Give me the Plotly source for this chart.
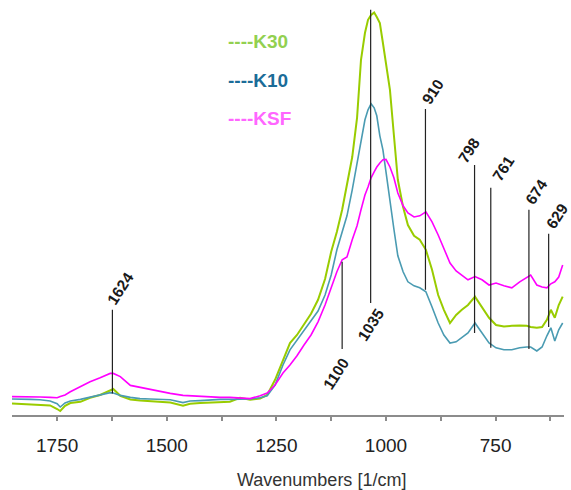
import plotly.graph_objects as go

# Wavenumbers [1/cm]
wavenumber = [1853, 1834, 1811, 1789, 1766, 1750, 1743, 1732, 1720, 1697, 1675, 1652, 1629, 1622,
              1606, 1583, 1561, 1538, 1515, 1492, 1463, 1447, 1424, 1401, 1378, 1356, 1333, 1310,
              1287, 1271, 1253, 1235, 1219, 1203, 1187, 1171, 1155, 1139, 1125, 1112, 1100, 1089,
              1077, 1066, 1057, 1048, 1041, 1034, 1027, 1021, 1014, 1007, 1000, 991, 982, 973,
              961, 950, 936, 923, 909, 895, 881, 868, 854, 840, 827, 813, 797, 781, 765, 749,
              731, 713, 695, 679, 670, 656, 644, 633, 624, 615, 606, 597]

ksf = [0.046, 0.046, 0.045, 0.045, 0.044, 0.043, 0.046, 0.050, 0.058, 0.071, 0.083, 0.093, 0.104, 0.104,
       0.096, 0.074, 0.069, 0.063, 0.058, 0.054, 0.049, 0.048, 0.046, 0.045, 0.044, 0.044, 0.043, 0.041,
       0.048, 0.055, 0.075, 0.105, 0.125, 0.148, 0.175, 0.200, 0.233, 0.275, 0.318, 0.358, 0.388, 0.395,
       0.438, 0.473, 0.513, 0.550, 0.570, 0.593, 0.608, 0.620, 0.630, 0.638, 0.639, 0.620, 0.593, 0.555,
       0.523, 0.505, 0.495, 0.498, 0.508, 0.483, 0.450, 0.415, 0.380, 0.360, 0.350, 0.338, 0.346, 0.338,
       0.325, 0.330, 0.323, 0.318, 0.333, 0.345, 0.350, 0.325, 0.320, 0.318, 0.328, 0.333, 0.345, 0.375]

k10 = [0.040, 0.040, 0.039, 0.038, 0.035, 0.028, 0.020, 0.030, 0.035, 0.039, 0.044, 0.049, 0.056, 0.055,
       0.049, 0.044, 0.041, 0.040, 0.039, 0.038, 0.031, 0.035, 0.036, 0.038, 0.039, 0.039, 0.039, 0.040,
       0.043, 0.048, 0.075, 0.125, 0.163, 0.188, 0.213, 0.238, 0.260, 0.300, 0.350, 0.413, 0.455, 0.498,
       0.563, 0.633, 0.688, 0.738, 0.763, 0.778, 0.768, 0.748, 0.698, 0.663, 0.608, 0.530, 0.465, 0.398,
       0.358, 0.333, 0.323, 0.318, 0.308, 0.270, 0.230, 0.200, 0.180, 0.183, 0.193, 0.205, 0.230, 0.205,
       0.180, 0.168, 0.163, 0.163, 0.168, 0.170, 0.170, 0.160, 0.170, 0.198, 0.218, 0.185, 0.213, 0.230]

k30 = [0.029, 0.028, 0.028, 0.026, 0.024, 0.015, 0.010, 0.023, 0.030, 0.033, 0.043, 0.050, 0.063, 0.065,
       0.048, 0.039, 0.036, 0.034, 0.033, 0.031, 0.023, 0.028, 0.030, 0.031, 0.033, 0.033, 0.043, 0.038,
       0.041, 0.050, 0.088, 0.138, 0.180, 0.200, 0.225, 0.253, 0.288, 0.340, 0.408, 0.458, 0.513, 0.575,
       0.645, 0.743, 0.888, 0.955, 0.988, 1.000, 1.006, 0.995, 0.980, 0.930, 0.883, 0.813, 0.700, 0.588,
       0.520, 0.475, 0.448, 0.438, 0.413, 0.363, 0.300, 0.263, 0.230, 0.250, 0.263, 0.275, 0.296, 0.270,
       0.243, 0.225, 0.221, 0.223, 0.224, 0.223, 0.220, 0.218, 0.220, 0.238, 0.263, 0.243, 0.275, 0.296]

series_names = ["K30", "K10", "KSF"]
line_colors = ["#99CC00", "#4A9BB2", "#FF00FF"]
legend_colors = ["#92D050", "#1B6C98", "#FF66FF"]

# Peak markers
peak_labels = ["1624", "1100", "1035", "910", "798", "761", "674", "629"]
peak_wn = [1624, 1100, 1035, 910, 798, 761, 674, 629]
peak_line_low = [0.054, 0.165, 0.280, 0.313, 0.205, 0.168, 0.165, 0.220]
peak_line_high = [0.263, 0.383, 1.013, 0.765, 0.625, 0.568, 0.513, 0.453]
label_wn = [1606, 1114, 1035, 893, 811, 733, 657, 611]
label_abs = [0.316, 0.104, 0.227, 0.808, 0.661, 0.617, 0.559, 0.497]

tick_vals = [1750, 1625, 1500, 1375, 1250, 1125, 1000, 875, 750, 625]
tick_text = ["1750", "", "1500", "", "1250", "", "1000", "", "750", ""]

fig = go.Figure()
for name, ys, col, w in zip(series_names, [k30, k10, ksf], line_colors, [2, 1.6, 1.6]):
    fig.add_trace(go.Scatter(x=wavenumber, y=ys, mode="lines", name=name,
                             line=dict(color=col, width=w), showlegend=False))

for wn, lo, hi in zip(peak_wn, peak_line_low, peak_line_high):
    fig.add_shape(type="line", x0=wn, x1=wn, y0=lo, y1=hi, xref="x", yref="y",
                  line=dict(color="#222222", width=1.2))

for lab, lx, ly in zip(peak_labels, label_wn, label_abs):
    fig.add_annotation(x=lx, y=ly, xref="x", yref="y", text=lab, showarrow=False,
                       textangle=-57, font=dict(family="Liberation Sans, Arial", size=15.5,
                                                color="#1a1a1a", weight="bold"))

legend_y = [0.915, 0.819, 0.727]
for name, col, ly in zip(series_names, legend_colors, legend_y):
    fig.add_annotation(x=0.388, y=ly, xref="paper", yref="paper", text="----" + name,
                       showarrow=False, xanchor="left", yanchor="middle",
                       font=dict(family="Liberation Sans, Arial", size=19, color=col, weight="bold"))

fig.add_annotation(x=0.56, y=-0.159, xref="paper", yref="paper", text="Wavenumbers [1/cm]",
                   showarrow=False, xanchor="center", yanchor="middle",
                   font=dict(family="Liberation Sans, Arial", size=18, color="#333333"))

fig.update_layout(
    width=571, height=490,
    margin=dict(l=12, r=7, t=7, b=75),
    paper_bgcolor="white", plot_bgcolor="white",
    xaxis=dict(range=[1853, 594], tickvals=tick_vals, ticktext=tick_text,
               showgrid=False, zeroline=False, showline=True, linecolor="#8c8c8c", linewidth=1.5,
               ticks="outside", ticklen=4, tickcolor="#8c8c8c", tickwidth=1.5,
               ticklabelstandoff=8,
               tickfont=dict(family="Liberation Sans, Arial", size=19, color="#222222")),
    yaxis=dict(range=[0, 1.02], visible=False, showgrid=False, zeroline=False),
)

fig.write_html("out.html")
